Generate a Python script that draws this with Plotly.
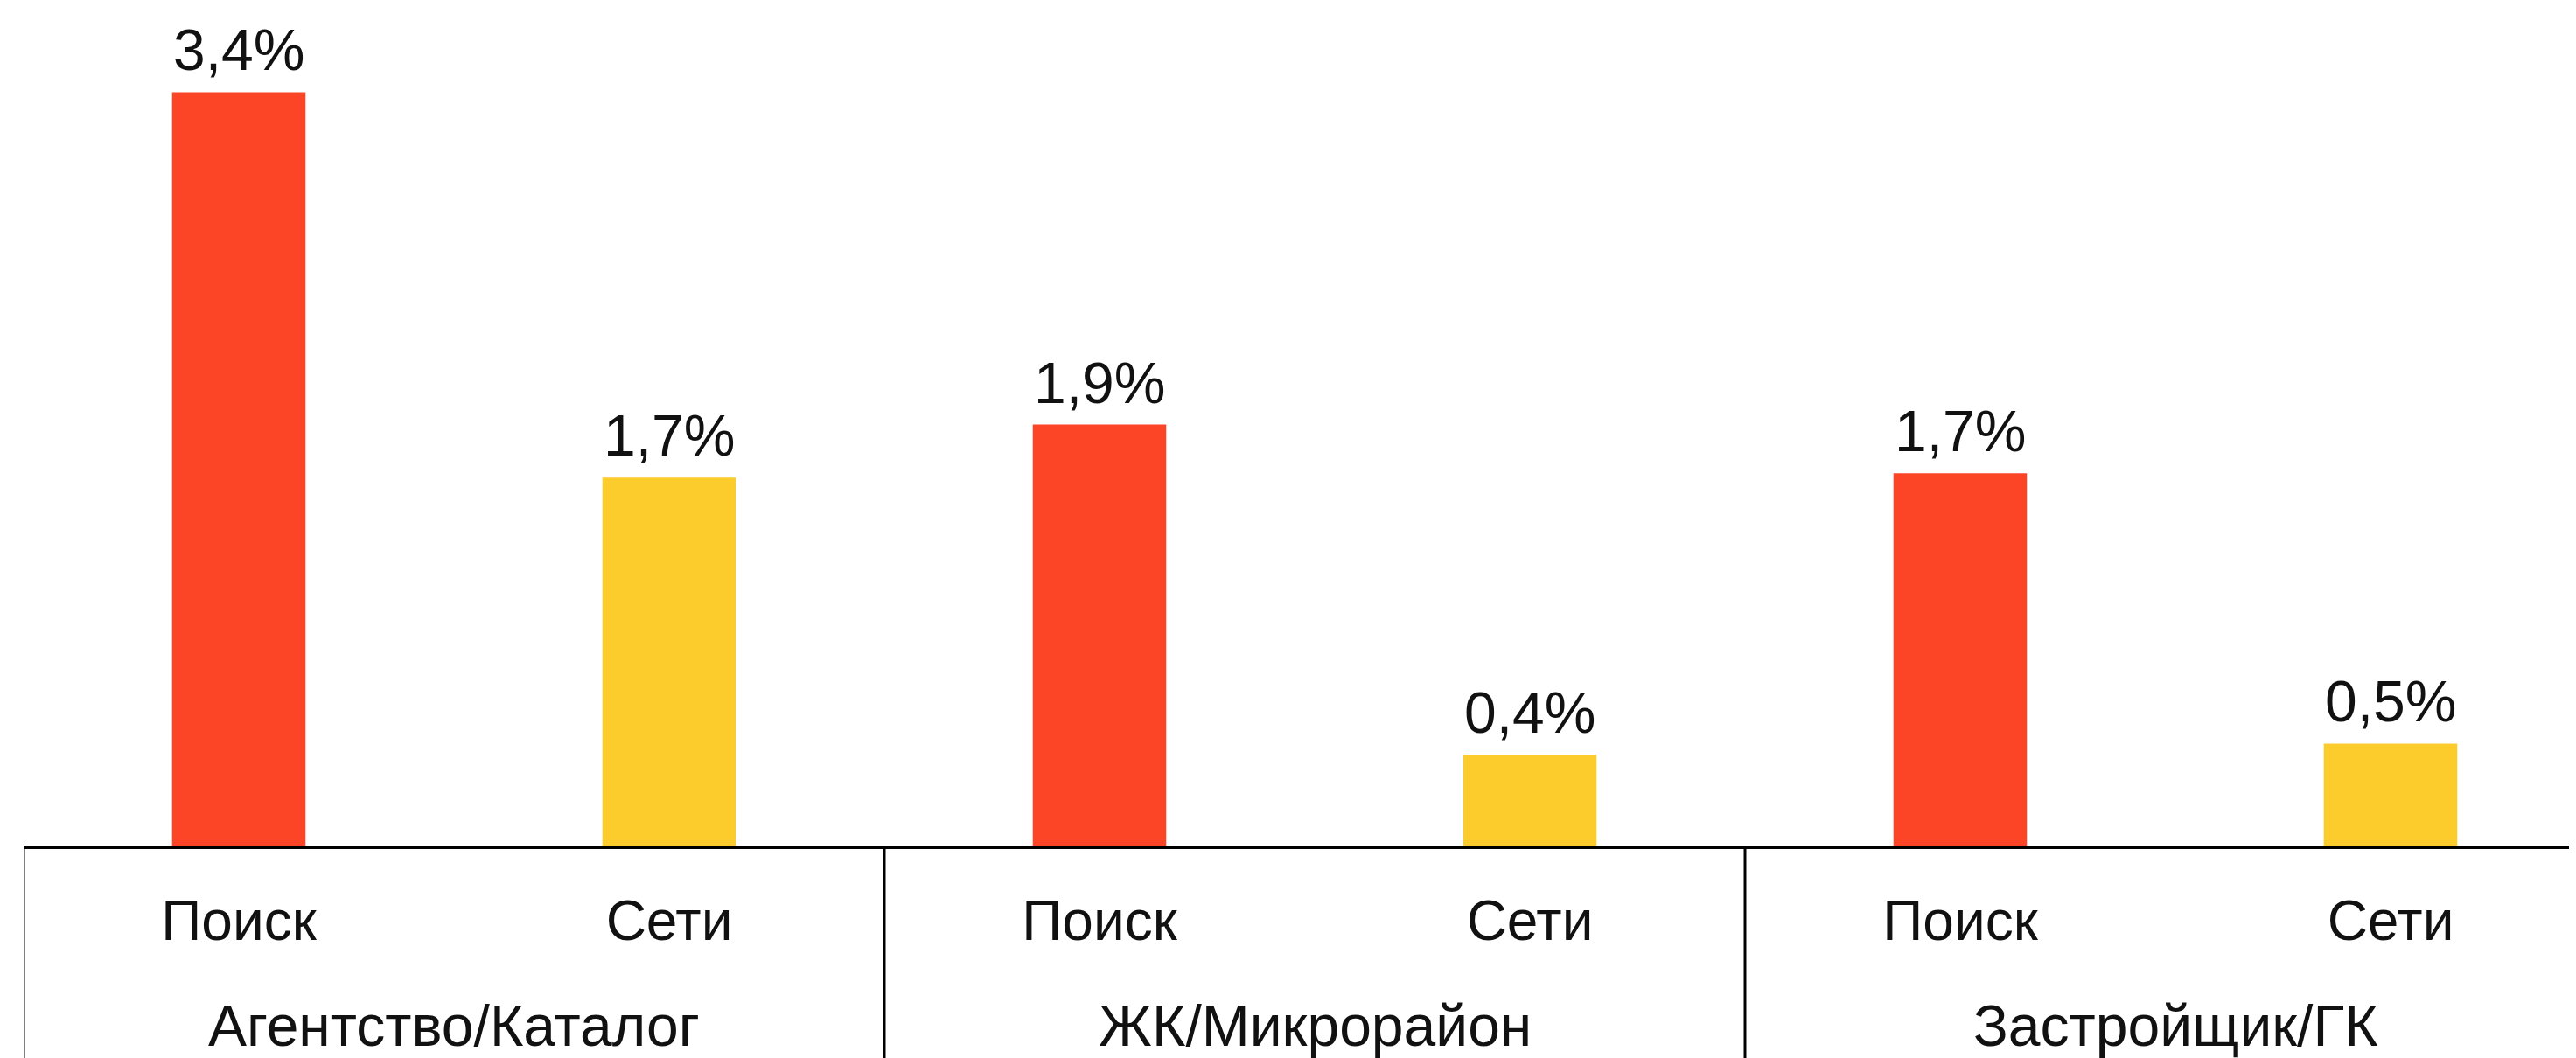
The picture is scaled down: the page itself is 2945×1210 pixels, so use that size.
import plotly.graph_objects as go

groups = ["Агентство/Каталог", "ЖК/Микрорайон", "Застройщик/ГК"]
channels = ["Поиск", "Сети"]
search_values = [3.4, 1.9, 1.68]
social_values = [1.66, 0.41, 0.46]

RED = "#fc4527"
YELLOW = "#fccb2c"
FONT = "Liberation Sans, Arial, sans-serif"
TXT = "#111111"

# page body has an 8px default margin; the figure is sized to compensate
W, H = 2937, 1202
PLOT_BOTTOM = 959
PX_PER_UNIT = 253.4

n_ch = len(channels)
search_x = [g * n_ch + 0 for g in range(len(groups))]
social_x = [g * n_ch + 1 for g in range(len(groups))]
tick_x = [g * n_ch + c for g in range(len(groups)) for c in range(n_ch)]
tick_text = [channels[c] for g in range(len(groups)) for c in range(n_ch)]

fig = go.Figure()
fig.add_trace(go.Bar(x=search_x, y=search_values, width=0.31,
                     marker=dict(color=RED, line=dict(width=0)), name=channels[0]))
fig.add_trace(go.Bar(x=social_x, y=social_values, width=0.31,
                     marker=dict(color=YELLOW, line=dict(width=0)), name=channels[1]))

annotations = []
for xs, ys in ((search_x, search_values), (social_x, social_values)):
    for x, y in zip(xs, ys):
        annotations.append(dict(
            x=x, y=y, xref="x", yref="y", text=f"{y:.1f}%".replace(".", ","),
            showarrow=False, yanchor="bottom", yshift=9,
            font=dict(family=FONT, size=66, color=TXT)))
for g, name in enumerate(groups):
    annotations.append(dict(
        x=g * n_ch + (n_ch - 1) / 2, y=0, xref="x", yref="paper", text=name,
        showarrow=False, yanchor="middle", yshift=-206,
        font=dict(family=FONT, size=66, color=TXT)))

bottom = -(H - PLOT_BOTTOM) / PLOT_BOTTOM
shapes = [dict(type="line", xref="x", yref="paper",
               x0=g * n_ch - 0.5, x1=g * n_ch - 0.5, y0=0, y1=bottom,
               line=dict(color="black", width=3))
          for g in range(len(groups) + 1)]

fig.update_layout(
    width=W, height=H,
    margin=dict(l=19, r=0, t=0, b=H - PLOT_BOTTOM),
    paper_bgcolor="white", plot_bgcolor="white",
    showlegend=False, barmode="overlay",
    annotations=annotations, shapes=shapes,
    font=dict(family=FONT, color=TXT),
)
fig.update_xaxes(
    range=[-0.5, -0.5 + (W - 19) / 492], automargin=False,
    tickmode="array", tickvals=tick_x, ticktext=tick_text,
    showline=True, linecolor="black", linewidth=4,
    tickfont=dict(family=FONT, size=64, color=TXT), ticklabelstandoff=27,
    showgrid=False, ticks="", zeroline=False,
)
fig.update_yaxes(visible=False, range=[0, PLOT_BOTTOM / PX_PER_UNIT],
                 showgrid=False, zeroline=False, automargin=False)

fig.write_html("out.html")
